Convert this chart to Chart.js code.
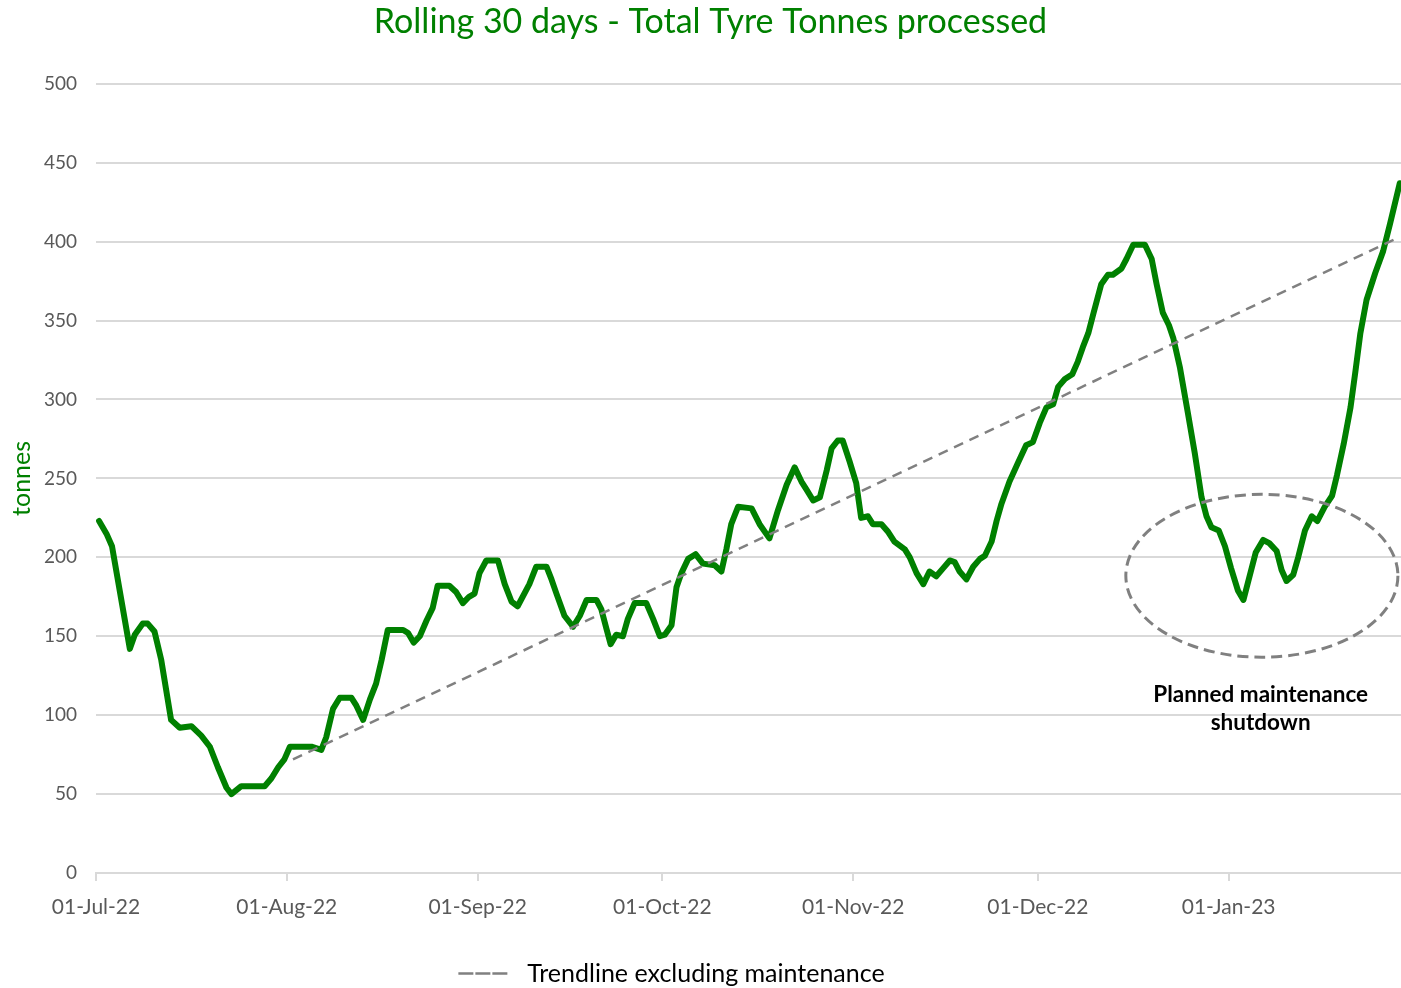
<!DOCTYPE html>
<html>
<head>
<meta charset="utf-8">
<title>Rolling 30 days - Total Tyre Tonnes processed</title>
<script src="https://cdn.jsdelivr.net/npm/chart.js@4.4.1/dist/chart.umd.min.js"></script>
<style>
  html, body { margin: 0; padding: 0; background: #ffffff; }
  #wrap { width: 1401px; height: 988px; }
</style>
</head>
<body>
<div id="wrap"><canvas id="tonnesChart"></canvas></div>
<script>
// days after 01-Jul-22
const dayOffsets = [0.5, 1.7, 2.6, 5.5, 6.3, 7.6, 8.4, 9.5, 10.6, 12.2, 13.6, 15.5, 17.1, 18.5, 19.8, 21.2, 22, 23.6, 27.4, 28.5,
  29.6, 30.6, 31.5, 35, 36.6, 37.4, 38.5, 39.6, 41.5, 42.3, 43.4, 44.5, 45.5, 46.4, 47.4, 49.9, 50.7, 51.6, 52.6, 53.7,
  54.7, 55.5, 57.4, 58.5, 59.6, 60.6, 61.5, 62.3, 63.4, 65.3, 66.4, 67.5, 68.5, 70.4, 71.5, 73.2, 74, 74.8, 76.1, 77.5,
  78.6, 79.7, 81.3, 82.1, 82.9, 83.6, 84.5, 85.6, 86.4, 87.5, 89.4, 90.5, 91.6, 92.4, 93.5, 94.3, 95.1, 96.2, 97.4, 98.6,
  100.5, 101.6, 102.4, 103.2, 104.3, 106.5, 107.8, 109.4, 110.8, 112.2, 113.5, 114.6, 115.4, 116.5, 117.6, 118.7, 119.5, 120.5, 121.3, 122.4,
  123.5, 124.3, 125.4, 126.2, 127.6, 128.7, 129.7, 131.4, 132.2, 133.3, 134.4, 135.4, 136.5, 137.6, 138.7, 139.5, 140.3, 141.4, 142.5, 143.6,
  144.4, 145.5, 146.3, 147.1, 148.4, 149.8, 151.1, 152.2, 153.3, 154.4, 155.5, 156.3, 157.4, 158.6, 159.5, 160.3, 161.2, 162, 163.3, 164.4,
  165.2, 166.6, 167.4, 168.5, 170.4, 171.5, 172.3, 173.3, 174.3, 175, 176.1, 177.4, 178.5, 179.6, 180.4, 181.2, 182.4, 183.4, 184.4, 185.5,
  186.4, 187.4, 188.4, 189.6, 190.6, 191.8, 192.6, 193.4, 194.5, 195.3, 196.4, 197.5, 198.4, 199.6, 200.8, 201.6, 202.7, 203.8, 204.6, 205.4,
  206.4, 207.8, 209.1, 210.2, 211.8];

const tonnes = [223, 215, 207, 142, 151, 158, 158, 153, 135, 97, 92, 93, 87, 80, 67, 54, 50, 55, 55, 60,
  67, 72, 80, 80, 78, 86, 104, 111, 111, 106, 97, 110, 120, 135, 154, 154, 152, 146, 150, 160,
  168, 182, 182, 178, 171, 175, 177, 190, 198, 198, 183, 172, 169, 183, 194, 194, 186, 177, 163, 156,
  163, 173, 173, 167, 155, 145, 151, 150, 161, 171, 171, 161, 150, 151, 157, 181, 190, 199, 202, 196,
  195, 191, 205, 221, 232, 231, 221, 212, 230, 246, 257, 248, 243, 236, 238, 255, 269, 274, 274, 261,
  247, 225, 226, 221, 221, 216, 210, 205, 200, 190, 183, 191, 188, 193, 198, 197, 191, 186, 194, 199,
  201, 210, 223, 234, 248, 260, 271, 273, 285, 295, 297, 308, 313, 316, 324, 333, 342, 354, 373, 379,
  379, 383, 389, 398, 398, 389, 373, 355, 347, 339, 320, 291, 266, 238, 226, 219, 217, 207, 193, 179,
  173, 188, 203, 211, 209, 204, 192, 185, 189, 200, 217, 226, 223, 232, 239, 252, 272, 295, 318, 342,
  363, 380, 394, 411, 437];

// trendline excluding maintenance: start and end
const trendDays = [32, 211.8];
const trendTonnes = [72, 403];

// month ticks
const tickDays = [0, 31, 62, 92, 123, 153, 184];
const tickLabels = ['01-Jul-22', '01-Aug-22', '01-Sep-22', '01-Oct-22', '01-Nov-22', '01-Dec-22', '01-Jan-23'];

const noteLines = ['Planned maintenance', 'shutdown'];

const green = '#008000';
const fontFamily = 'Lato, "Open Sans", sans-serif';

// dashed ellipse + note around the shutdown
const shutdownNote = {
  id: 'shutdownNote',
  afterLayout(chart) {
    // legend sits a little left of centre in the original, title a little right
    chart.legend.left -= 29;
    chart.legend.right -= 29;
    chart.titleBlock.left += 10;
    chart.titleBlock.right += 10;
  },
  afterDatasetsDraw(chart) {
    const xs = chart.scales.x, ys = chart.scales.y, ctx = chart.ctx;
    const cx = xs.getPixelForValue(189.4), cy = ys.getPixelForValue(188.3);
    const rx = xs.getPixelForValue(189.4 + 22.1) - cx;
    const ry = cy - ys.getPixelForValue(188.3 + 51.6);
    ctx.save();
    ctx.strokeStyle = '#808080';
    ctx.lineWidth = 3;
    ctx.setLineDash([11, 6]);
    ctx.beginPath();
    ctx.ellipse(cx, cy, rx, ry, 0, 0, Math.PI * 2);
    ctx.stroke();
    ctx.setLineDash([]);
    ctx.fillStyle = '#000000';
    ctx.font = 'bold 22.5px ' + fontFamily;
    ctx.textAlign = 'center';
    ctx.textBaseline = 'middle';
    const tx = xs.getPixelForValue(189.2);
    ctx.fillText(noteLines[0], tx, ys.getPixelForValue(113));
    ctx.fillText(noteLines[1], tx, ys.getPixelForValue(95));
    ctx.restore();
  }
};

const ctx = document.getElementById('tonnesChart').getContext('2d');
new Chart(ctx, {
  type: 'line',
  data: {
    datasets: [{
      label: 'Trendline excluding maintenance',
      data: trendDays.map((d, i) => ({ x: d, y: trendTonnes[i] })),
      borderColor: '#808080',
      borderWidth: 2.5,
      borderDash: [10, 7],
      pointRadius: 0,
      fill: false
    }, {
      label: 'Rolling 30 days',
      data: dayOffsets.map((d, i) => ({ x: d, y: tonnes[i] })),
      borderColor: green,
      borderWidth: 6,
      borderJoinStyle: 'round',
      borderCapStyle: 'round',
      pointRadius: 0,
      tension: 0,
      fill: false
    }]
  },
  options: {
    responsive: true,
    maintainAspectRatio: false,
    animation: false,
    layout: { padding: { left: 0, right: 0, top: 0, bottom: -8 } },
    plugins: {
      title: {
        display: true,
        text: 'Rolling 30 days - Total Tyre Tonnes processed',
        color: green,
        font: { family: fontFamily, size: 34, weight: 'normal' },
        padding: { top: 2, bottom: 41 }
      },
      legend: {
        position: 'bottom',
        labels: {
          color: '#000000',
          font: { family: fontFamily, size: 25 },
          boxWidth: 50,
          boxHeight: 0,
          padding: 8,
          generateLabels: chart => [{
            text: ' Trendline excluding maintenance',
            strokeStyle: '#808080',
            fillStyle: 'rgba(0,0,0,0)',
            lineWidth: 2.5,
            lineDash: [10, 7],
            datasetIndex: 0
          }]
        }
      },
      tooltip: { enabled: false }
    },
    scales: {
      x: {
        type: 'linear',
        min: 0,
        max: 212,
        afterBuildTicks: scale => { scale.ticks = tickDays.map(v => ({ value: v })); },
        afterFit: scale => { scale.height = 80; },
        ticks: {
          autoSkip: false,
          maxRotation: 0,
          padding: 14,
          color: '#595959',
          font: { family: fontFamily, size: 21 },
          callback: value => tickLabels[tickDays.indexOf(value)]
        },
        grid: { drawOnChartArea: false, drawTicks: true, tickLength: 8, color: '#d9d9d9', lineWidth: 2 },
        border: { display: true, color: '#d9d9d9', width: 2 }
      },
      y: {
        min: 0,
        max: 500,
        afterFit: scale => { scale.width = 96; },
        ticks: {
          stepSize: 50,
          padding: 19,
          color: '#595959',
          font: { family: fontFamily, size: 19 }
        },
        grid: { color: '#d9d9d9', lineWidth: 2, drawTicks: false },
        border: { display: false },
        title: {
          display: true,
          text: 'tonnes',
          color: green,
          font: { family: fontFamily, size: 25 },
          padding: { top: 7, bottom: 0 }
        }
      }
    }
  },
  plugins: [shutdownNote]
});
</script>
</body>
</html>
